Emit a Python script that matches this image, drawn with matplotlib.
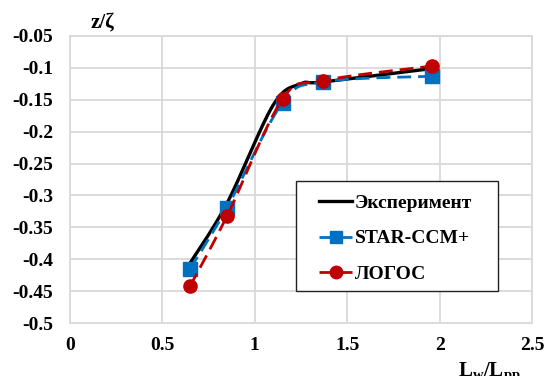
import numpy as np
import matplotlib
matplotlib.use("Agg")
import matplotlib.pyplot as plt
from matplotlib.lines import Line2D
from matplotlib.patches import Rectangle

# Measured and computed heave values
x_exp = [0.65, 0.85, 1.10, 1.25, 1.37, 1.96]
y_exp = [-0.406, -0.312, -0.158, -0.125, -0.122, -0.101]

x_star = [0.65, 0.85, 1.15, 1.37, 1.96]
y_star = [-0.415, -0.319, -0.155, -0.122, -0.113]

x_logos = [0.65, 0.85, 1.15, 1.37, 1.96]
y_logos = [-0.442, -0.332, -0.149, -0.120, -0.097]

labels = ["Эксперимент", "STAR-CCM+", "ЛОГОС"]
xticks = [0, 0.5, 1, 1.5, 2, 2.5]
xtick_labels = ["0", "0.5", "1", "1.5", "2", "2.5"]
yticks = [-0.5, -0.45, -0.4, -0.35, -0.3, -0.25, -0.2, -0.15, -0.1, -0.05]
ytick_labels = ["-0.5", "-0.45", "-0.4", "-0.35", "-0.3", "-0.25", "-0.2",
                "-0.15", "-0.1", "-0.05"]


def smooth(xs, ys, n=30):
    """Bezier smoothing through the points (spreadsheet-style smoothed line)."""
    P = np.column_stack([np.asarray(xs, float), np.asarray(ys, float)])
    m = len(P)
    out = [P[0]]
    t = np.linspace(0, 1, n)[1:][:, None]
    for i in range(m - 1):
        p0 = P[i - 1] if i > 0 else P[i]
        p1 = P[i]
        p2 = P[i + 1]
        p3 = P[i + 2] if i + 2 < m else P[i + 1]
        c1 = p1 + (p2 - p0) / 6.0
        c2 = p2 - (p3 - p1) / 6.0
        seg = ((1 - t) ** 3) * p1 + 3 * ((1 - t) ** 2) * t * c1 \
            + 3 * (1 - t) * t ** 2 * c2 + t ** 3 * p2
        out.extend(seg)
    out = np.array(out)
    return out[:, 0], out[:, 1]


plt.rcParams["font.family"] = ["Liberation Serif", "DejaVu Serif"]
plt.rcParams["font.weight"] = "bold"
plt.rcParams["mathtext.fontset"] = "custom"
plt.rcParams["mathtext.rm"] = "Liberation Serif:bold"
plt.rcParams["mathtext.it"] = "Liberation Serif:bold"
plt.rcParams["mathtext.bf"] = "Liberation Serif:bold"

W, H = 545, 376
fig = plt.figure(figsize=(W / 100, H / 100), dpi=100)
ax = fig.add_axes([70 / W, 1 - 323 / H, 462 / W, 287 / H])

grid_c = "#d9d9d9"
ax.set_xlim(0, 2.5)
ax.set_ylim(-0.5, -0.05)
ax.set_xticks(xticks)
ax.set_yticks(yticks)
ax.set_xticklabels(xtick_labels, fontsize=14, fontweight="bold")
ax.set_yticklabels(ytick_labels, fontsize=14, fontweight="bold")
ax.tick_params(axis="both", length=0)
ax.tick_params(axis="y", pad=12)
ax.tick_params(axis="x", pad=10)
ax.grid(True, color=grid_c, linewidth=1.3)
for s in ax.spines.values():
    s.set_color(grid_c)
    s.set_linewidth(1.3)

blue = "#0070C0"
red = "#C00000"

sx, sy = smooth(x_exp, y_exp)
ax.plot(sx, sy, color="black", linewidth=2.4, zorder=3,
        solid_capstyle="round")

bx, by = smooth(x_star, y_star)
ax.plot(bx, by, color=blue, linewidth=2.0, dashes=(5, 2.5), zorder=4)
ax.plot(x_star, y_star, linestyle="none", marker="s", markersize=9.5,
        color=blue, zorder=4)

rx, ry = smooth(x_logos, y_logos)
ax.plot(rx, ry, color=red, linewidth=2.0, dashes=(5, 2.5), zorder=5)
ax.plot(x_logos, y_logos, linestyle="none", marker="o", markersize=9.5,
        color=red, zorder=5)

# Legend box
fx = lambda px: (px - 70) / 462
fy = lambda py: (323 - py) / 287
frame = Rectangle((fx(296), fy(291)), fx(498) - fx(296), fy(181) - fy(291),
                  transform=ax.transAxes, facecolor="white",
                  edgecolor="#222222", linewidth=1.0, zorder=9)
ax.add_patch(frame)

handles = [
    Line2D([], [], color="black", linewidth=2.4),
    Line2D([], [], color=blue, linewidth=2.0, dashes=(5, 2.5),
           marker="s", markersize=9),
    Line2D([], [], color=red, linewidth=2.0, dashes=(5, 2.5),
           marker="o", markersize=9),
]
leg = ax.legend(handles, labels, loc="upper left",
                bbox_to_anchor=(fx(319), fy(194)),
                borderaxespad=0, borderpad=0, frameon=False,
                prop={"family": "Liberation Serif", "weight": "bold",
                      "size": 14},
                handlelength=1.7, handletextpad=0.15, labelspacing=0.93,
                numpoints=1)
leg.set_zorder(10)

fig.text(102 / W, 1 - 22 / H, "z/ζ", ha="center", va="center",
         fontsize=15, fontweight="bold")
fig.text(458 / W, 1 - 376 / H, r"$\mathrm{L_w/L_{pp}}$", ha="left",
         va="baseline", fontsize=15)

fig.savefig("out.png", dpi=100)
